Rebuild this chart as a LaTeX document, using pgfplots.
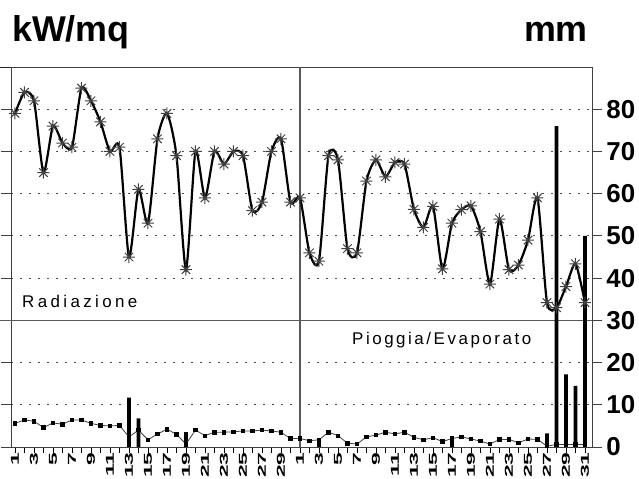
\documentclass[border=0pt]{standalone}
\usepackage{fontspec}
\setmainfont{Liberation Sans}
\usepackage{graphicx}
\usepackage{pgfplots}
\pgfplotsset{compat=1.18}

\pgfdeclareplotmark{ast8}{%
  \pgfpathmoveto{\pgfqpoint{0pt}{\pgfplotmarksize}}\pgfpathlineto{\pgfqpoint{0pt}{-\pgfplotmarksize}}%
  \pgfpathmoveto{\pgfqpoint{\pgfplotmarksize}{0pt}}\pgfpathlineto{\pgfqpoint{-\pgfplotmarksize}{0pt}}%
  \pgfpathmoveto{\pgfqpoint{.7071\pgfplotmarksize}{.7071\pgfplotmarksize}}\pgfpathlineto{\pgfqpoint{-.7071\pgfplotmarksize}{-.7071\pgfplotmarksize}}%
  \pgfpathmoveto{\pgfqpoint{-.7071\pgfplotmarksize}{.7071\pgfplotmarksize}}\pgfpathlineto{\pgfqpoint{.7071\pgfplotmarksize}{-.7071\pgfplotmarksize}}%
  \pgfusepathqstroke}

\newcommand\tl[1]{\scalebox{2.0}[1]{#1}}

\begin{document}
\begin{tikzpicture}
\begin{axis}[
  scale only axis,
  width=581bp, height=380bp,
  at={(11bp,32bp)}, anchor=south west,
  xmin=-0.42, xmax=60.74,
  ymin=0, ymax=90,
  clip=false,
  axis line style={draw=black!75, line width=0.9bp},
  tick align=outside,
  xtick pos=lower,
  ytick pos=both,
  yticklabel pos=right,
  xtick={0,...,60},
  xticklabels={\tl{1},,\tl{3},,\tl{5},,\tl{7},,\tl{9},,\tl{11},,\tl{13},,\tl{15},,\tl{17},,\tl{19},,\tl{21},,\tl{23},,\tl{25},,\tl{27},,\tl{29},,%
               \tl{1},,\tl{3},,\tl{5},,\tl{7},,\tl{9},,\tl{11},,\tl{13},,\tl{15},,\tl{17},,\tl{19},,\tl{21},,\tl{23},,\tl{25},,\tl{27},,\tl{29},,\tl{31}},
  xticklabel style={rotate=90, anchor=east, font=\bfseries\fontsize{11.5}{11.5}\selectfont, inner sep=1bp},
  x tick style={black, line width=0.8bp, /pgfplots/major tick length=6bp},
  ytick={0,10,...,80},
  y tick style={black!75, line width=0.9bp, /pgfplots/major tick length=10bp},
  yticklabel style={font=\bfseries\fontsize{26}{26}\selectfont, inner sep=2bp, xshift=8bp},
  /pgf/number format/assume math mode=true,
  ymajorgrids,
  major grid style={black!70, line width=0.8bp, dash pattern=on 2bp off 7bp},
]
% separators
\draw[black!65, line width=1bp] (axis cs:-1.6,30) -- (axis cs:60.74,30);
\draw[black!65, line width=1.2bp] (axis cs:30,0) -- (axis cs:30,90);
\draw[black!85, line width=0.9bp] (axis cs:-1.6,90) -- (axis cs:-0.42,90);

% rain bars
\addplot[ybar, bar width=3.6bp, fill=black, draw=none] coordinates {
 (12,11.7) (13,6.8) (18,3.5) (32,2.0) (46,2.2) (56,3.2) (57,76) (58,17.2) (59,14.5) (60,50)
};

% evaporation
\addplot[black!75, line width=0.8bp, mark=square*, mark size=1.7bp, mark options={black, solid}] coordinates {
 (0,5.6) (1,6.4) (2,6.1) (3,4.6) (4,5.7) (5,5.4) (6,6.4) (7,6.4) (8,5.6) (9,5.1)
 (10,5.0) (11,5.1) (12,2.4) (13,4.0) (14,1.7) (15,3.1) (16,4.2) (17,3.0) (18,0.7) (19,4.0)
 (20,2.7) (21,3.5) (22,3.5) (23,3.6) (24,3.8) (25,3.8) (26,4.0) (27,3.8) (28,3.5) (29,2.0)
 (30,2.0) (31,1.5) (32,1.7) (33,3.5) (34,2.7) (35,0.9) (36,0.7) (37,2.4) (38,2.8) (39,3.5)
 (40,3.1) (41,3.5) (42,2.3) (43,1.7) (44,2.2) (45,1.3) (46,2.0) (47,2.4) (48,1.9) (49,1.4)
 (50,0.7) (51,1.8) (52,1.8) (53,1.0) (54,1.9) (55,1.8) (56,0.2) (57,0.6) (58,0.6) (59,0.6) (60,0.6)
};

% radiation
\addplot[black, line width=2.2bp, smooth, tension=0.4, mark=ast8, mark size=6bp, mark options={black!75, line width=1bp}] coordinates {
 (0,79) (1,84) (2,82) (3,65) (4,76) (5,72) (6,71) (7,85) (8,82) (9,77)
 (10,70) (11,71) (12,45) (13,61) (14,53) (15,73) (16,79) (17,69) (18,42) (19,70)
 (20,59) (21,70) (22,67) (23,70) (24,69) (25,56) (26,58) (27,70) (28,73) (29,58)
 (30,59) (31,46) (32,44) (33,69) (34,68) (35,47) (36,46) (37,63) (38,68) (39,64)
 (40,67.4) (41,67) (42,56.3) (43,52) (44,57) (45,42.2) (46,53) (47,56.2) (48,57.1) (49,51)
 (50,38.6) (51,54) (52,42) (53,43.1) (54,49) (55,59) (56,34.2) (57,33) (58,38) (59,43.4) (60,34.2)
};
\end{axis}
\node[anchor=base west, inner sep=0pt, font=\bfseries\fontsize{36}{36}\selectfont] at (12bp,437bp) {kW/mq};
\node[anchor=base east, inner sep=0pt, font=\bfseries\fontsize{36}{36}\selectfont] at (588bp,437bp) {mm};
\node[anchor=base west, inner sep=0pt, font=\fontsize{17}{17}\selectfont\addfontfeature{LetterSpace=20}] at (22bp,171bp) {Radiazione};
\node[anchor=base west, inner sep=0pt, font=\fontsize{17}{17}\selectfont\addfontfeature{LetterSpace=15}] at (352bp,134bp) {Pioggia/Evaporato};
\pgfresetboundingbox
\path[use as bounding box] (0,0) rectangle (639bp,479bp);
\end{tikzpicture}
\end{document}
